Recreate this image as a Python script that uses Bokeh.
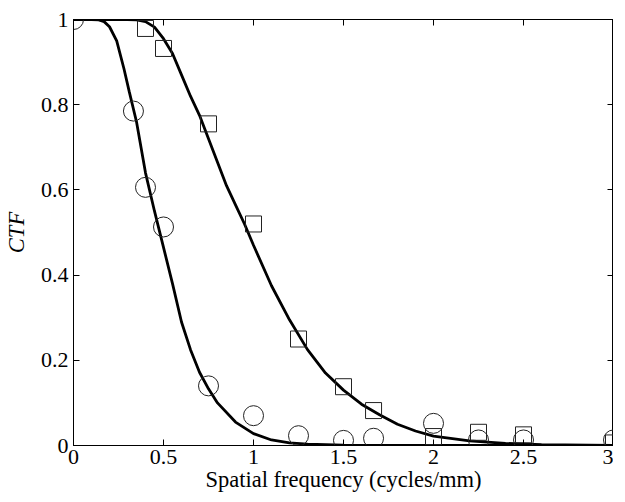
from bokeh.plotting import figure
from bokeh.models import Range1d, LinearAxis, FixedTicker, CustomJSTickFormatter
from bokeh.embed import file_html
from bokeh.resources import INLINE

# measured points (circles)
circ_x = [0.0, 0.333, 0.4, 0.5, 0.75, 1.0, 1.25, 1.5, 1.667, 2.0, 2.25, 2.5, 3.0]
circ_y = [1.0, 0.785, 0.606, 0.513, 0.14, 0.07, 0.023, 0.012, 0.017, 0.052, 0.013, 0.013, 0.013]

# measured points (squares)
sq_x = [0.4, 0.5, 0.75, 1.0, 1.25, 1.5, 1.667, 2.0, 2.25, 2.5, 3.0]
sq_y = [0.979, 0.932, 0.755, 0.52, 0.25, 0.138, 0.082, 0.021, 0.031, 0.025, 0.006]

# fitted curve for circles
fitA_x = [0.0, 0.1, 0.14, 0.17, 0.2, 0.24, 0.28, 0.31, 0.35, 0.4, 0.45, 0.5, 0.55, 0.6,
          0.65, 0.7, 0.75, 0.8, 0.9, 1.0, 1.1, 1.2, 1.3, 1.5, 2.0, 3.0]
fitA_y = [1.0, 1.0, 0.999, 0.995, 0.983, 0.95, 0.885, 0.83, 0.76, 0.64, 0.55, 0.465, 0.38,
          0.29, 0.225, 0.172, 0.133, 0.1, 0.055, 0.028, 0.013, 0.006, 0.003, 0.001, 0.0, 0.0]

# fitted curve for squares
fitB_x = [0.0, 0.25, 0.3, 0.35, 0.4, 0.45, 0.5, 0.55, 0.6, 0.65, 0.7, 0.75, 0.8, 0.85,
          0.9, 0.95, 1.0, 1.1, 1.2, 1.3, 1.4, 1.5, 1.6, 1.7, 1.8, 1.9, 2.0, 2.2, 2.4,
          2.6, 3.0]
fitB_y = [1.0, 1.0, 1.0, 0.999, 0.995, 0.982, 0.955, 0.92, 0.87, 0.82, 0.775, 0.72,
          0.665, 0.61, 0.565, 0.52, 0.47, 0.375, 0.295, 0.225, 0.17, 0.13, 0.097,
          0.072, 0.05, 0.034, 0.022, 0.011, 0.005, 0.002, 0.0]

x_ticks = [0, 0.5, 1, 1.5, 2, 2.5, 3]
y_ticks = [0, 0.2, 0.4, 0.6, 0.8, 1]

FONT = "Liberation Serif"

p = figure(width=613, height=494, output_backend="svg", toolbar_location=None,
           x_range=Range1d(0, 3), y_range=Range1d(0, 1),
           x_axis_label="Spatial frequency (cycles/mm)", y_axis_label="CTF",
           min_border_left=59, min_border_right=0, min_border_top=19, min_border_bottom=45)

p.xgrid.visible = False
p.ygrid.visible = False
p.outline_line_color = "black"
p.outline_line_width = 1
p.background_fill_color = "white"
p.border_fill_color = "white"

for ax in p.xaxis:
    ax.ticker = FixedTicker(ticks=x_ticks)
for ax in p.yaxis:
    ax.ticker = FixedTicker(ticks=y_ticks)

for ax in list(p.xaxis) + list(p.yaxis):
    ax.major_tick_in = 6
    ax.major_tick_out = 0
    ax.minor_tick_in = 0
    ax.minor_tick_out = 0
    ax.axis_line_color = "black"
    ax.major_tick_line_color = "black"
    ax.major_label_text_font = FONT
    ax.major_label_text_font_size = "22px"
    ax.major_label_text_color = "black"
    ax.axis_label_text_font = FONT
    ax.axis_label_text_font_size = "22.5px"
    ax.axis_label_text_font_style = "normal"
    ax.axis_label_text_color = "black"

p.xaxis.major_label_standoff = 4
p.xaxis.axis_label_standoff = 0
p.yaxis.major_label_standoff = 5
p.yaxis.axis_label_standoff = 9
p.yaxis.axis_label_text_font_style = "italic"

blank = CustomJSTickFormatter(code="return '';")
top = LinearAxis(ticker=FixedTicker(ticks=x_ticks), formatter=blank,
                 major_tick_in=6, major_tick_out=0, minor_tick_in=0, minor_tick_out=0,
                 major_label_standoff=0, axis_line_color="black")
right = LinearAxis(ticker=FixedTicker(ticks=y_ticks), formatter=blank,
                   major_tick_in=6, major_tick_out=0, minor_tick_in=0, minor_tick_out=0,
                   major_label_standoff=0, axis_line_color="black")
p.add_layout(top, "above")
p.add_layout(right, "right")

p.line(fitA_x, fitA_y, line_color="black", line_width=2.8)
p.line(fitB_x, fitB_y, line_color="black", line_width=2.8)

p.scatter(circ_x, circ_y, marker="circle", size=20, fill_color=None,
          line_color="#222222", line_width=1)
p.scatter(sq_x, sq_y, marker="square", size=16, fill_color=None,
          line_color="#222222", line_width=1)

open("out.html", "w").write(file_html(p, INLINE))
